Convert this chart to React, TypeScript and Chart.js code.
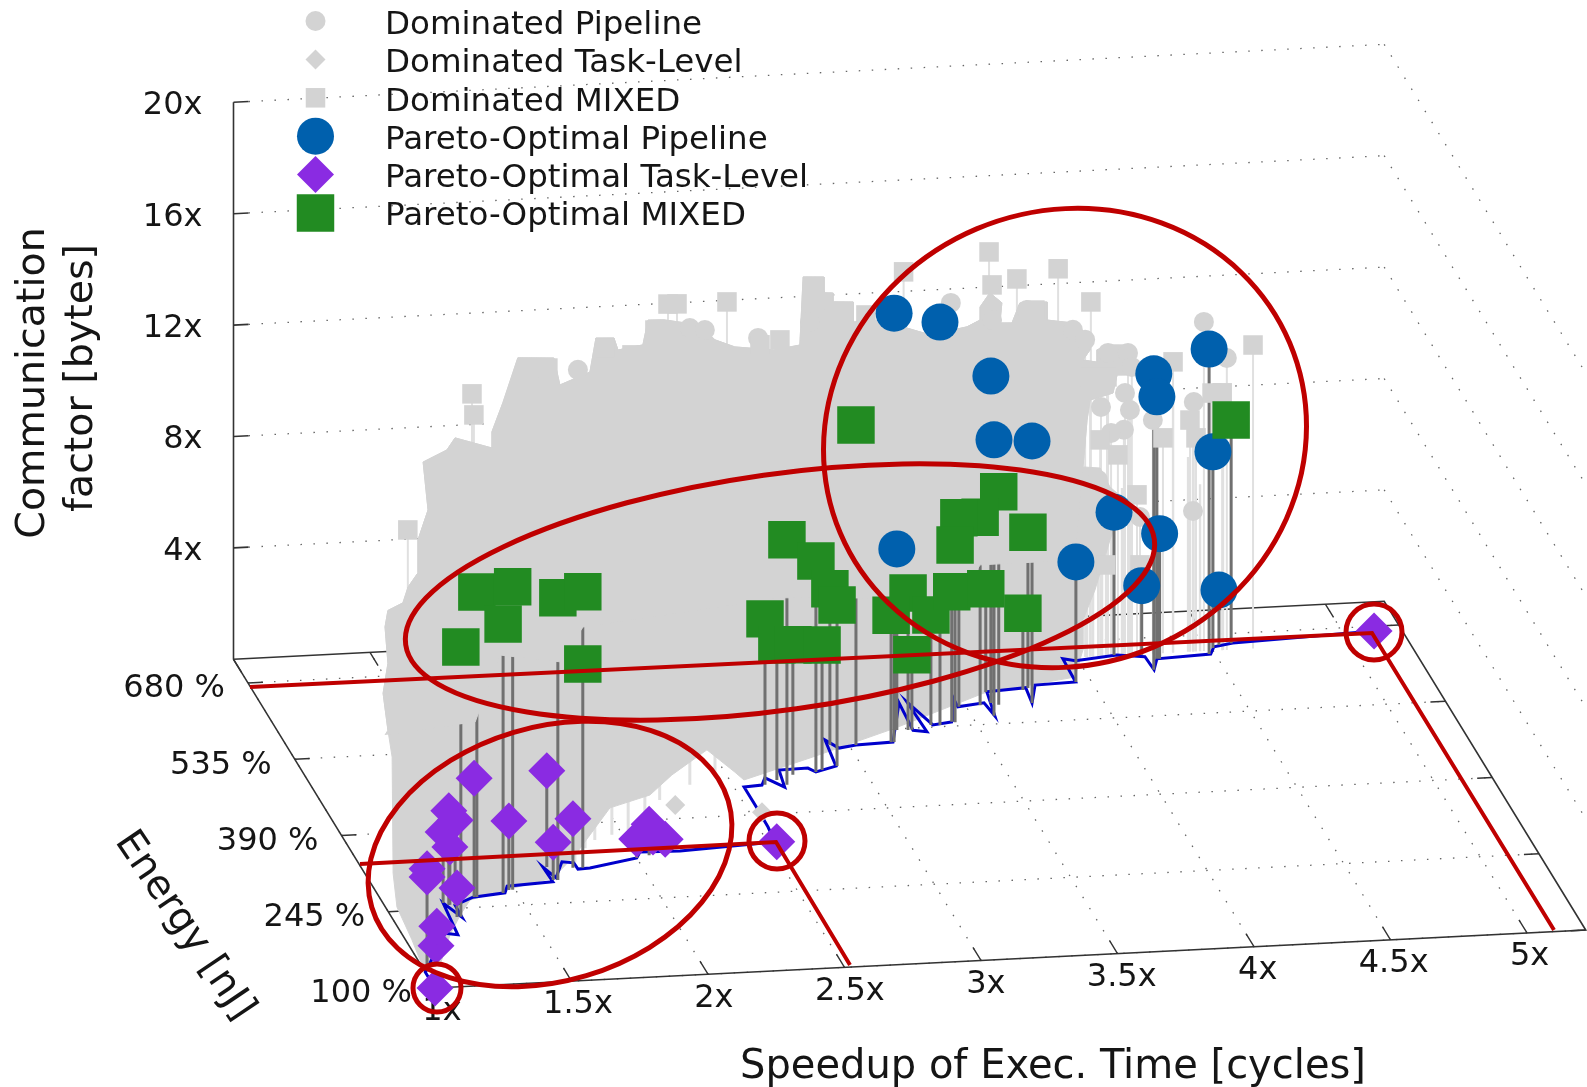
import React, { useEffect, useRef } from "react";
import { Chart, registerables } from "chart.js";
import { drawPoint } from "chart.js/helpers";

Chart.register(...registerables);

// ---------- axis ticks and texts ----------
const speedupTicks = [1, 1.5, 2, 2.5, 3, 3.5, 4, 4.5, 5];
const energyTicks = [100, 245, 390, 535, 680];
const commTicks = [4, 8, 12, 16, 20];
const speedupRange = [1, 5.215];
const energyRange = [100, 725];
const commRange = [0, 20];
const legendLabels = [
  "Dominated Pipeline",
  "Dominated Task-Level",
  "Dominated MIXED",
  "Pareto-Optimal Pipeline",
  "Pareto-Optimal Task-Level",
  "Pareto-Optimal MIXED",
];

// ---------- Pareto-optimal designs ----------
const pipeSpeedup = [3.167, 3.367, 3.596, 3.579, 3.742, 3.203, 3.944, 4.138, 4.292, 4.237, 4.247, 4.282, 4.478, 4.505, 4.533];
const pipeEnergy = [511, 538, 574, 550, 570, 533, 605, 651, 640, 649, 620, 640, 644, 655, 660];
const pipeComm = [15.4, 14.47, 11.74, 9.91, 9.41, 6.5, 4.31, 5.13, 4.49, 2.48, 10.63, 9.41, 10.95, 7.04, 1.97];

const taskSpeedup = [1, 1.065, 1.1, 1.233, 1.011, 1.011, 1.234, 1.214, 1.252, 1.23, 1.337, 1.661, 1.476, 1.752, 1.655, 2.05, 2.0, 2.116, 2.069, 2.533, 5.114];
const taskEnergy = [100, 152, 179, 229, 134, 134, 252, 256, 251, 252, 264, 313, 274, 309, 288, 325, 321, 331, 329, 338, 671];
const taskComm = [0, 0.5, 0.68, 1.04, 3.63, 3.34, 2.08, 2.55, 3.05, 3.38, 4.27, 3.45, 2.48, 1.76, 1.36, 1.11, 0.68, 0.43, 0.57, 0, 0];

const mixedSpeedup = [1.247, 1.347, 1.49, 1.449, 1.672, 1.787, 1.787, 2.693, 2.824, 2.933, 2.912, 2.615, 2.668, 2.736, 2.85, 3.025, 3.62, 3.553, 3.474, 3.427, 3.76, 3.243, 3.156, 3.335, 3.416, 3.602, 3.738, 3.257, 4.58];
const mixedEnergy = [229, 264, 274, 269, 288, 308, 308, 442, 463, 512, 472, 444, 452, 460, 466, 509, 570, 571, 570, 542, 598, 532, 511, 539, 543, 595, 595, 532, 662];
const mixedComm = [9.69, 10.95, 10.88, 9.66, 10.13, 9.91, 7.32, 8.8, 7.58, 5.6, 5.78, 5.96, 4.85, 4.67, 4.49, 11.49, 7.65, 6.75, 6.79, 6.36, 5.6, 4.92, 4.56, 3.95, 4.67, 3.7, 2.76, 2.69, 8.01];

// ---------- Pareto front on the floor ----------
const frontSpeedup = [1, 1, 1.155, 1.197, 1.214, 1.25, 1.252, 1.333, 1.456, 1.478, 1.65, 1.647, 1.67, 1.726, 1.766, 1.767, 1.812, 2.0, 2.025, 2.169, 2.526, 2.534, 2.536, 2.536, 2.604, 2.63, 2.68, 2.697, 2.804, 2.824, 2.908, 2.926, 2.958, 3.025, 3.163, 3.27, 3.26, 3.306, 3.3, 3.342, 3.42, 3.474, 3.47, 3.572, 3.582, 3.606, 3.753, 3.742, 3.792, 3.943, 3.948, 3.989, 4.148, 4.244, 4.248, 4.282, 4.484, 4.511, 4.586, 5.114];
const frontEnergy = [100, 130, 200, 196, 256, 228, 251, 264, 269, 281, 285, 313, 292, 321, 318, 306, 307, 321, 332, 330, 338, 366, 402, 442, 444, 457, 438, 470, 471, 463, 472, 521, 505, 509, 511, 583, 531, 527, 584, 539, 543, 589, 570, 575, 550, 595, 599, 570, 603, 605, 649, 644, 651, 645, 620, 640, 644, 657, 662, 671];

// ---------- dominated designs (individually visible ones) ----------
const domEnergy = 650;
const domMixedSpeedup = [1.785, 1.792, 2.503, 2.536, 2.719, 3.366, 3.679, 3.69, 3.781, 3.932, 4.052, 4.353, 4.646, 4.496, 4.415, 4.437, 4.316, 4.221, 4.107, 4.232, 4.533, 1.55, 1.997, 2.063, 2.272, 2.371, 2.455, 2.913, 2.84, 3.041, 3.228, 3.847, 4.049, 4.111, 4.086, 4.151];
const domMixedComm = [10.56, 9.8, 13.43, 13.42, 13.4, 14.16, 14.72, 13.53, 13.7, 13.99, 12.74, 10.44, 10.9, 9.25, 8.32, 7.67, 7.73, 5.73, 3.27, 3.21, 9.24, 5.79, 11.39, 11.35, 11.97, 11.67, 12.52, 11.94, 11.8, 13.31, 12.68, 12.55, 10.05, 10.02, 7.77, 7.2];

const domPipeSpeedup = [2.173, 2.833, 3.539, 4.466, 4.55, 4.177, 4.195, 4.173, 4.126, 4.089, 4.279, 4.429, 4.426, 4.232, 3.986, 4.115, 4.188, 2.583, 4.078, 4.031, 4.202, 3.818, 3.69, 3.023, 2.638];
const domPipeComm = [11.23, 12.05, 12.96, 11.82, 10.48, 9.41, 8.79, 8.09, 8, 8.95, 8.39, 8.96, 5.05, 4.93, 11.77, 10.88, 10.84, 12.53, 6.34, 11.39, 10.33, 12.57, 12.27, 12.53, 12.43];

const domTaskSpeedup = [2.545, 2.252];
const domTaskEnergy = [394, 415];
const domTaskComm = [0, 0];

// further dominated impulses whose marker is lost in the cloud
const impulseHighSpeedup = [4.038, 4.06, 4.093, 4.133, 4.166, 4.202, 4.353, 4.408, 4.426, 4.452, 4.536];
const impulseHighComm = [6.7, 6, 6.5, 5, 6, 5.5, 9, 7, 8, 6, 9];
const impulseLowSpeedup = [1.771, 1.838, 1.89, 1.962, 2.03, 2.123, 2.208, 2.348, 2.459, 2.794, 3.097, 3.481];
const impulseLowEnergy = [319, 344, 358, 366, 373, 400, 426, 451, 467, 487, 526, 573];
const impulseLowComm = [0.5, 1.5, 1.4, 1.5, 1.4, 1, 1, 1, 0.9, 0.6, 0.4, 0.4];

// ---------- dominated cloud envelope ----------
const cloudLeftSpeedup = [1, 1.023, 1, 1, 1, 1, 1, 1, 1, 1];
const cloudLeftEnergy = [134, 191, 218, 230, 233, 246, 261, 246, 255, 246];
const cloudLeftComm = [0, 0, 0.68, 1.67, 5.78, 6.5, 7.54, 8.9, 10.04, 10.8];

const cloudTopSpeedup = [1.532, 1.551, 1.587, 1.587, 1.624, 1.606, 1.693, 1.723, 1.858, 1.858, 1.898, 1.953, 2.085, 2.107, 2.217, 2.239, 2.305, 2.32, 2.411, 2.43, 2.488, 2.62, 2.675, 2.748, 2.891, 2.986, 2.998, 3.074, 3.074, 3.107, 3.107, 3.181, 3.181, 3.279, 3.463, 3.598, 3.646, 3.646, 3.682, 3.726, 3.719, 3.763, 3.792, 3.891, 3.891, 3.986, 4.049, 4.049, 4.023, 4.074, 4.074, 4.122, 4.177, 4.213, 4.195, 4.148, 4.133, 4.049, 4.038, 4.023];
const cloudTopComm = [3.18, 3.74, 4.23, 5.41, 6.47, 8.2, 8.59, 9.01, 8.58, 9.16, 10.18, 11.77, 11.7, 10.72, 11.13, 12.34, 12.31, 11.87, 12.01, 12.89, 12.87, 12.62, 12.06, 11.77, 11.59, 11.72, 14.16, 14.12, 13.55, 13.53, 13.21, 13.17, 12.45, 12.47, 11.85, 12.07, 12.29, 12.76, 13.25, 12.87, 12.15, 12.13, 12.83, 12.82, 12.17, 12.02, 11.49, 11.02, 10.67, 10.57, 11.01, 11.16, 11.13, 10.69, 10.05, 10.07, 9.43, 9.22, 8.51, 6.83];

const cloudTailSpeedup = [4.086, 4.122, 4.177, 4.122, 4.067, 4.023];
const cloudTailComm = [6.76, 6.06, 5.57, 4.16, 2.39, 1.34];

const cloudFrontSpeedup = [4.038, 3.951, 3.593, 3.204, 2.846, 2.551, 2.536, 2.485, 2.306, 2.184, 2.014, 1.787, 1.659, 1.462, 1.316, 1.248, 1.168, 1.068];
const cloudFrontEnergy = [663, 614, 593, 537, 491, 455, 470, 514, 471, 436, 416, 332, 292, 274, 259, 232, 196, 142];

const pointMassStartSpeedup = [1.053];
const pointMassStartEnergy = [300];
const pointMassStartComm = [5.28];
const pointMassBottomSpeedup = [3.994, 3.646, 3.573, 3.206, 2.913, 2.62, 2.192, 2.107, 1.888, 1.383];
const pointMassBottomEnergy = [650, 650, 650, 650, 650, 650, 650, 650, 650, 300];
const pointMassBottomComm = [3.5, 3.5, 2.28, 2.53, 2.68, 2.39, 1.99, 0.78, 1.13, 5.58];

// ---------- view: gnuplot-like orthographic projection ----------
const sx = (s: number, e: number) => 435 + 273 * (s - 1) - 0.3224 * (e - 100);
const sy = (s: number, e: number, c: number) => 988 - 13.76 * (s - 1) - 0.5259 * (e - 100) - 27.85 * c;
const P = (s: number, e: number, c: number) => ({ x: sx(s, e), y: sy(s, e, c) });
const BREAK = { x: NaN, y: NaN };

const C = {
  dom: "#d3d3d3",
  domStem: "#e0e0e0",
  stem: "#707070",
  front: "#0000cc",
  blue: "#0060ad",
  purple: "#8a2be2",
  green: "#228b22",
  axis: "#333333",
  dot: "#666666",
  red: "#bf0000",
  text: "#151515",
};
const FONT = '"DejaVu Sans"';

const zip = (a: number[], b: number[], c: number[]) => a.map((v, i) => P(v, b[i], c[i]));
const atEnergy = (a: number[], e: number, c: number[]) => a.map((v, i) => P(v, e, c[i]));
const stems = (a: number[], b: number[], c: number[]) =>
  a.flatMap((v, i) => [P(v, b[i], 0), P(v, b[i], c[i]), BREAK]);
const stemsAtEnergy = (a: number[], e: number, c: number[]) =>
  a.flatMap((v, i) => [P(v, e, 0), P(v, e, c[i]), BREAK]);

const segments = (pairs: number[][][]) =>
  pairs.flatMap(([p, q]) => [P(p[0], p[1], p[2]), P(q[0], q[1], q[2]), BREAK]);

const [X0, X1] = speedupRange;
const [E0, E1] = energyRange;
const [Z0, Z1] = commRange;

function buildDatasets() {
  const list: any[] = [];
  const line = (data: any[], color: string, width: number, dash?: number[]) =>
    list.push({
      data,
      showLine: true,
      borderColor: color,
      borderWidth: width,
      borderDash: dash || [],
      pointRadius: 0,
      spanGaps: false,
      clip: false,
    });
  const poly = (data: any[]) =>
    list.push({
      data,
      showLine: true,
      fill: "shape",
      backgroundColor: C.dom,
      borderColor: C.dom,
      borderWidth: 1,
      pointRadius: 0,
      clip: false,
    });
  const marks = (label: string, data: any[], style: string, radius: number, color: string) =>
    list.push({
      label,
      data,
      showLine: false,
      pointStyle: style,
      pointRadius: radius,
      pointBackgroundColor: color,
      pointBorderWidth: 0,
      clip: false,
    });

  // dotted grid
  const dots = [1.5, 11.5];
  line(segments(speedupTicks.map((v) => [[v, E0, 0], [v, E1, 0]])), C.dot, 1.3, dots);
  line(segments(energyTicks.map((v) => [[X0, v, 0], [X1, v, 0]])), C.dot, 1.3, dots);
  line(segments(commTicks.map((v) => [[X0 + 0.055, E1, v], [X1, E1, v]])), C.dot, 1.3, dots);
  line(segments(commTicks.map((v) => [[X1, E1, v], [X1, E0, v]])), C.dot, 1.3, dots);

  // frame and tick marks
  line(
    [P(X0, E1, Z1), P(X0, E1, Z0), P(X0, E0, Z0), P(X1, E0, Z0), P(X1, E1, Z0), P(X0, E1, Z0)],
    C.axis,
    1.6
  );
  line(segments(commTicks.map((v) => [[X0, E1, v], [X0 + 0.055, E1, v]])), C.axis, 1.6);
  line(segments(speedupTicks.map((v) => [[v, E0, 0], [v, E0 + 25, 0]])), C.axis, 1.4);
  line(segments(speedupTicks.map((v) => [[v, E1, 0], [v, E1 - 25, 0]])), C.axis, 1.4);
  line(segments(energyTicks.map((v) => [[X0, v, 0], [X0 + 0.055, v, 0]])), C.axis, 1.4);
  line(segments(energyTicks.map((v) => [[X1, v, 0], [X1 - 0.055, v, 0]])), C.axis, 1.4);

  // dominated impulses, then the cloud they merge into
  line(stemsAtEnergy(domMixedSpeedup, domEnergy, domMixedComm), C.domStem, 2);
  line(stemsAtEnergy(domPipeSpeedup, domEnergy, domPipeComm), C.domStem, 2);
  line(stemsAtEnergy(impulseHighSpeedup, domEnergy, impulseHighComm), C.domStem, 2.4);
  line(stems(impulseLowSpeedup, impulseLowEnergy, impulseLowComm), C.domStem, 3);
  poly([
    ...zip(cloudLeftSpeedup, cloudLeftEnergy, cloudLeftComm),
    ...atEnergy(cloudTopSpeedup, domEnergy, cloudTopComm),
    ...atEnergy(cloudTailSpeedup, domEnergy, cloudTailComm),
    ...cloudFrontSpeedup.map((v, i) => P(v, cloudFrontEnergy[i], 0)),
  ]);

  // Pareto front and impulses
  line(frontSpeedup.map((v, i) => P(v, frontEnergy[i], 0)), C.front, 3);
  line(stems(pipeSpeedup, pipeEnergy, pipeComm), C.stem, 3);
  line(stems(taskSpeedup, taskEnergy, taskComm), C.stem, 3);
  line(stems(mixedSpeedup, mixedEnergy, mixedComm), C.stem, 3);

  // dominated markers (they hide the upper part of the impulses)
  poly([
    ...zip(pointMassStartSpeedup, pointMassStartEnergy, pointMassStartComm),
    ...zip(cloudLeftSpeedup.slice(5), cloudLeftEnergy.slice(5), cloudLeftComm.slice(5)),
    ...atEnergy(cloudTopSpeedup, domEnergy, cloudTopComm),
    ...zip(pointMassBottomSpeedup, pointMassBottomEnergy, pointMassBottomComm),
  ]);
  marks(legendLabels[0], atEnergy(domPipeSpeedup, domEnergy, domPipeComm), "circle", 10, C.dom);
  marks(legendLabels[1], zip(domTaskSpeedup, domTaskEnergy, domTaskComm), "rectRot", 10, C.dom);
  marks(legendLabels[2], atEnergy(domMixedSpeedup, domEnergy, domMixedComm), "rect", 13.8, C.dom);

  // Pareto markers
  marks(legendLabels[3], zip(pipeSpeedup, pipeEnergy, pipeComm), "circle", 18.5, C.blue);
  marks(legendLabels[5], zip(mixedSpeedup, mixedEnergy, mixedComm), "rect", 26.5, C.green);
  marks(legendLabels[4], zip(taskSpeedup, taskEnergy, taskComm), "rectRot", 18.5, C.purple);

  // later in the list = drawn on top
  list.forEach((d, i) => (d.order = list.length - i));
  return list;
}

const text = (
  ctx: CanvasRenderingContext2D,
  s: string,
  x: number,
  y: number,
  size: number,
  align: CanvasTextAlign,
  rot = 0
) => {
  ctx.save();
  ctx.translate(x, y);
  ctx.rotate(rot);
  ctx.font = `${size}px ${FONT}`;
  ctx.fillStyle = C.text;
  ctx.textAlign = align;
  ctx.textBaseline = "middle";
  ctx.fillText(s, 0, 0);
  ctx.restore();
};

const tickLabelsPlugin = {
  id: "tickLabels",
  beforeDatasetsDraw(chart: any) {
    const ctx = chart.ctx;
    const px = (v: number) => chart.scales.x.getPixelForValue(v);
    const py = (v: number) => chart.scales.y.getPixelForValue(v);
    commTicks.forEach((v) => text(ctx, `${v}x`, px(sx(X0, E1)) - 31, py(sy(X0, E1, v)) + 3.5, 32, "right"));
    energyTicks.forEach((v) => text(ctx, `${v} %`, px(sx(X0, v)) - 23, py(sy(X0, v, 0)) + 6, 32, "right"));
    speedupTicks.forEach((v) =>
      text(ctx, `${v}x`, px(sx(v, E0)) + 7 - (v - 1) * 1.1, py(sy(v, E0, 0)) + 24, 32, "center")
    );
    text(ctx, "Communication", 34, 383, 39.5, "center", -Math.PI / 2);
    text(ctx, "factor [bytes]", 82, 378, 39.5, "center", -Math.PI / 2);
    text(ctx, "Energy [nJ]", 184, 926, 39.5, "center", (56 * Math.PI) / 180);
    text(ctx, "Speedup of Exec. Time [cycles]", 1053, 1068, 40, "center");
  },
};

const legendIcons = [
  { style: "circle", radius: 10, color: C.dom },
  { style: "rectRot", radius: 10, color: C.dom },
  { style: "rect", radius: 13.8, color: C.dom },
  { style: "circle", radius: 18.5, color: C.blue },
  { style: "rectRot", radius: 18.5, color: C.purple },
  { style: "rect", radius: 26.5, color: C.green },
];

// callouts added on top of the figure, in page pixels
const calloutEllipses = [
  [1065, 438, 244, 227, -0.4],
  [780, 592, 378, 118, -0.14],
  [550, 854, 186, 127, -0.29],
  [437, 988, 24, 24, 0],
  [777, 841, 28, 28, 0],
  [1374, 632, 28, 28, 0],
];
const calloutLines = [
  [[250, 687], [1372, 633], [1554, 930]],
  [[360, 864], [776, 842], [850, 965]],
];

const overlayPlugin = {
  id: "overlay",
  afterDatasetsDraw(chart: any) {
    const ctx = chart.ctx;
    ctx.save();
    legendLabels.forEach((label, i) => {
      const ic = legendIcons[i];
      ctx.fillStyle = ic.color;
      drawPoint(ctx, { pointStyle: ic.style, radius: ic.radius, rotation: 0, borderWidth: 0 } as any, 315.5, 21 + 38.4 * i);
      text(ctx, label, 385, 25.5 + 38.3 * i, 32.5, "left");
    });
    ctx.strokeStyle = C.red;
    ctx.lineWidth = 5;
    calloutEllipses.forEach(([x, y, a, b, r]) => {
      ctx.beginPath();
      ctx.ellipse(x, y, a, b, r, 0, Math.PI * 2);
      ctx.stroke();
    });
    ctx.lineWidth = 4;
    ctx.lineJoin = "miter";
    calloutLines.forEach((pts) => {
      ctx.beginPath();
      pts.forEach(([x, y], i) => (i ? ctx.lineTo(x, y) : ctx.moveTo(x, y)));
      ctx.stroke();
    });
    ctx.restore();
  },
};

export default function App() {
  const ref = useRef<HTMLCanvasElement | null>(null);
  useEffect(() => {
    document.body.style.margin = "0";
    const chart = new Chart(ref.current as HTMLCanvasElement, {
      type: "scatter",
      data: { datasets: buildDatasets() },
      options: {
        animation: false,
        responsive: false,
        events: [],
        layout: { padding: 0, autoPadding: false },
        plugins: { legend: { display: false }, tooltip: { enabled: false } },
        scales: {
          x: { type: "linear", min: 0, max: 1587, display: false },
          y: { type: "linear", min: 0, max: 1087, reverse: true, display: false },
        },
      },
      plugins: [tickLabelsPlugin, overlayPlugin],
    } as any);
    return () => chart.destroy();
  }, []);
  return (
    <div style={{ width: 1587, height: 1087, background: "#fff" }}>
      <canvas ref={ref} width={1587} height={1087} style={{ display: "block" }} />
    </div>
  );
}
